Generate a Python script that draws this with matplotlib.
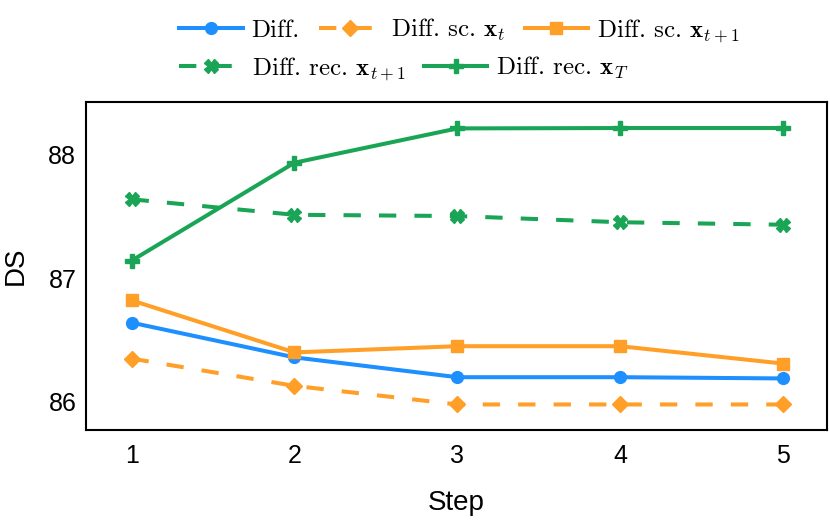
import matplotlib
matplotlib.use("Agg")
import matplotlib.pyplot as plt

steps = [1, 2, 3, 4, 5]
diff = [86.64, 86.36, 86.20, 86.20, 86.19]
diff_sc_xt = [86.35, 86.13, 85.98, 85.98, 85.98]
diff_sc_xt1 = [86.82, 86.40, 86.45, 86.45, 86.31]
diff_rec_xt1 = [87.635, 87.51, 87.50, 87.45, 87.43]
diff_rec_xT = [87.14, 87.93, 88.207, 88.21, 88.21]

labels = ['Diff.',
          r'Diff. sc. $\mathbf{x}_{t}$',
          r'Diff. sc. $\mathbf{x}_{t+1}$',
          r'Diff. rec. $\mathbf{x}_{t+1}$',
          r'Diff. rec. $\mathbf{x}_{T}$']
yticks = [86, 87, 88]

plt.rcParams['font.family'] = ['Liberation Sans', 'DejaVu Sans']
plt.rcParams['mathtext.fontset'] = 'cm'

blue = '#1E8FFF'
orange = '#FF9F27'
green = '#19A555'
dash = (0, (4.3, 4.5))

fig = plt.figure(figsize=(8.3, 5.2), dpi=100)
ax = fig.add_axes([86/830, 90/520, (827-86)/830, (430-102)/520])

lw = 2.9
h1, = ax.plot(steps, diff, color=blue, lw=lw, marker='o', ms=8.5, label=labels[0])
h2, = ax.plot(steps, diff_sc_xt, color=orange, lw=lw, ls=dash, marker='D', ms=8, label=labels[1])
h3, = ax.plot(steps, diff_sc_xt1, color=orange, lw=lw, marker='s', ms=9, label=labels[2])
h4, = ax.plot(steps, diff_rec_xt1, color=green, lw=lw, ls=dash, marker='X', ms=10, label=labels[3])
h5, = ax.plot(steps, diff_rec_xT, color=green, lw=lw, marker='P', ms=10, label=labels[4])

ax.set_xlim(0.72, 5.27)
ax.set_ylim(85.774, 88.42)
ax.set_xticks(steps)
ax.set_yticks(yticks)
ax.tick_params(axis='both', length=0, labelsize=18)
ax.tick_params(axis='x', pad=10)
ax.tick_params(axis='y', pad=7)
for s in ax.spines.values():
    s.set_linewidth(1.5)
ax.set_xlabel('Step', fontsize=20, labelpad=16)
ax.set_ylabel('DS', fontsize=20, labelpad=14)

common = dict(frameon=False, prop={'family': 'cmr10', 'size': 18}, handlelength=2.55,
              handletextpad=0.35, columnspacing=0.75, borderpad=0, borderaxespad=0,
              loc='center left')
leg1 = fig.legend(handles=[h1, h2, h3], ncol=3, bbox_to_anchor=(179/830, 1 - 31/520), **common)
leg2 = fig.legend(handles=[h4, h5], ncol=2, bbox_to_anchor=(179/830, 1 - 69/520), **common)

fig.savefig('out.png', dpi=100)
